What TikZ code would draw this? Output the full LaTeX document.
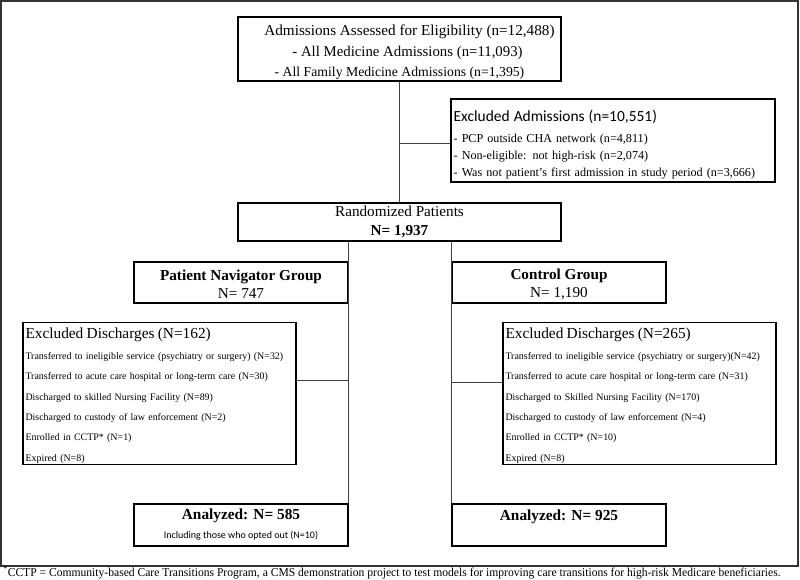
\documentclass[tikz,border=0pt]{standalone}
\usepackage{fontspec}
\usepackage{graphicx}
\setmainfont{Liberation Serif}
\newfontfamily\calib{Carlito}
\tikzset{
  box/.style={draw=black, line width=0.9pt, inner xsep=1.8pt, inner ysep=1pt},
  conn/.style={draw=black!75, line width=0.8pt},
  frame/.style={draw=black!80, line width=0.8pt},
  mainfont/.style={font=\fontsize{11.4}{14.3}\selectfont},
  smallfont/.style={font=\fontsize{7.45}{15.3}\selectfont},
}
\begin{document}
\begin{tikzpicture}[x=0.75pt,y=-0.75pt]
\useasboundingbox (0,0) rectangle (800,580);
\draw[frame] (1,1) rectangle (798,566);

\node[box, minimum width=242.25pt, minimum height=46.5pt, align=center,
  font=\fontsize{11.4}{15.4}\selectfont] (adm) at (399.5,49)
  {\rule{0pt}{13pt}\hspace*{15pt}Admissions Assessed for Eligibility (n=12,488)\\
   \hspace*{12pt}{\fontsize{11.1}{15.4}\selectfont - All Medicine Admissions (n=11,093)}\\
   {\fontsize{10.3}{15.4}\selectfont - All Family Medicine Admissions (n=1,395)}};

\node[box, minimum width=243pt, minimum height=62.25pt, text width=239pt, align=left,
  font=\fontsize{9.1}{12.75}\selectfont] (exA) at (613,140.5)
  {{\calib\fontsize{11.6}{14}\selectfont\rule{0pt}{14.7pt}Excluded Admissions (n=10,551)}\\[3pt]
   - PCP outside CHA network (n=4,811)\\
   - Non-eligible: not high-risk (n=2,074)\\
   - Was not patient's first admission in study period (n=3,666)};

\node[box, minimum width=242.25pt, minimum height=28.5pt, align=center, mainfont] (rand) at (399.5,222)
  {Randomized Patients\\\textbf{N= 1,937}};

\node[box, minimum width=160.5pt, minimum height=30.75pt, align=center,
  font=\fontsize{11.4}{13.7}\selectfont] (nav) at (241,282.5)
  {\rule{0pt}{11pt}\textbf{Patient Navigator Group}\\N= 747};
\node[box, minimum width=160.5pt, minimum height=30.75pt, align=center,
  font=\fontsize{11.4}{13.7}\selectfont] (ctl) at (559,282.5)
  {\rule{0pt}{11pt}\textbf{Control Group}\\N= 1,190};

\node[box, minimum width=204.75pt, minimum height=105.75pt, text width=201pt, align=left, smallfont] (exL) at (159.5,393.5)
  {{\fontsize{11.5}{13}\selectfont\rule{0pt}{11.5pt}Excluded Discharges (N=162)}\\
   Transferred to ineligible service (psychiatry or surgery) (N=32)\\
   Transferred to acute care hospital or long-term care (N=30)\\
   Discharged to skilled Nursing Facility (N=89)\\
   Discharged to custody of law enforcement (N=2)\\
   Enrolled in CCTP* (N=1)\\
   Expired (N=8)};
\node[box, minimum width=204.75pt, minimum height=105.75pt, text width=201pt, align=left, smallfont] (exR) at (639.5,393.5)
  {{\fontsize{11.5}{13}\selectfont\rule{0pt}{11.5pt}Excluded Discharges (N=265)}\\
   Transferred to ineligible service (psychiatry or surgery)(N=42)\\
   Transferred to acute care hospital or long-term care (N=31)\\
   Discharged to Skilled Nursing Facility (N=170)\\
   Discharged to custody of law enforcement (N=4)\\
   Enrolled in CCTP* (N=10)\\
   Expired (N=8)};

\node[box, minimum width=160.5pt, minimum height=31.5pt, align=center,
  font=\fontsize{11.5}{14.3}\selectfont] (anL) at (241,525)
  {\textbf{Analyzed: N= 585}\\{\calib\fontsize{7.5}{9}\selectfont Including those who opted out (N=10)}};
\node[box, minimum width=160.5pt, minimum height=31.5pt, align=center,
  font=\fontsize{11.5}{14.3}\selectfont] (anR) at (559,525)
  {\textbf{Analyzed: N= 925}\\{\calib\fontsize{7.5}{9}\selectfont\phantom{I}}};

\draw[conn] (adm) -- (rand);
\draw[conn] ([yshift=-2.6pt]exA.west) -- ([yshift=-2.6pt]exA.west -| adm.south);
\draw[conn] (rand.south -| anL.north east) -- (anL.north east);
\draw[conn] (rand.south -| anR.north west) -- (anR.north west);
\draw[conn] ([yshift=9.4pt]exL.east) -- ([yshift=9.4pt]exL.east -| anL.north east);
\draw[conn] ([yshift=7.9pt]exR.west) -- ([yshift=7.9pt]exR.west -| anR.north west);

\node[anchor=west, inner sep=0pt, font=\fontsize{9}{10}\selectfont] (fn) at (3,572.5)
  {\resizebox{583pt}{\height}{\textsuperscript{*}CCTP = Community-based Care Transitions Program, a CMS demonstration project to test models for improving care transitions for high-risk Medicare beneficiaries.}};
\end{tikzpicture}
\end{document}
